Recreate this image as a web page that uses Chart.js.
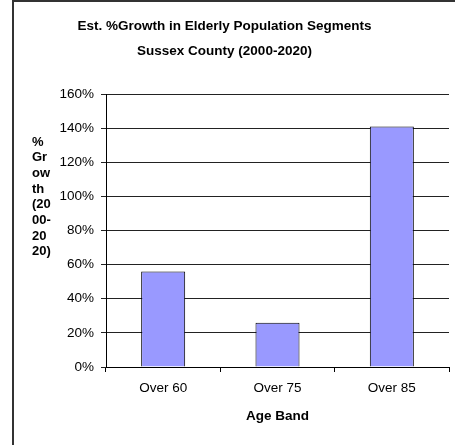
<!DOCTYPE html>
<html>
<head>
<meta charset="utf-8">
<script src="https://cdn.jsdelivr.net/npm/chart.js@4"></script>
<style>
  html, body { margin: 0; padding: 0; background: #fff; }
  #wrap { position: relative; width: 455px; height: 445px; overflow: hidden; }
  #frame {
    position: absolute; left: 12px; top: 0; width: 460px; height: 460px;
    border-left: 2px solid #333; border-top: 2px solid #333;
    pointer-events: none;
  }
</style>
</head>
<body>
<div id="wrap">
  <canvas id="chart" width="455" height="445"></canvas>
  <div id="frame"></div>
</div>
<script>
// Chart data
const categories = ['Over 60', 'Over 75', 'Over 85'];
const growthPct = [56, 26, 141];
const yTicks = [0, 20, 40, 60, 80, 100, 120, 140, 160];
const titleLines = ['Est. %Growth in Elderly Population Segments', 'Sussex County (2000-2020)'];
const yTitleLines = ['%', 'Gr', 'ow', 'th', '(20', '00-', '20', '20)'];
const xTitle = 'Age Band';

const FONT = 'Arial, "Liberation Sans", sans-serif';

// y-axis title is stacked in a narrow column, not rotated
const stackedYTitle = {
    id: 'stackedYTitle',
    afterDraw(chart) {
        const ctx = chart.ctx;
        ctx.save();
        ctx.font = 'bold 13px ' + FONT;
        ctx.fillStyle = '#000';
        ctx.textAlign = 'left';
        ctx.textBaseline = 'middle';
        yTitleLines.forEach((line, i) => {
            ctx.fillText(line, 32, 142 + i * 15.7);
        });
        ctx.restore();
    }
};

const ctx = document.getElementById('chart').getContext('2d');
new Chart(ctx, {
    type: 'bar',
    data: {
        labels: categories,
        datasets: [{
            label: '% Growth',
            data: growthPct,
            backgroundColor: '#9999FF',
            borderColor: '#000',
            borderWidth: 1,
            categoryPercentage: 1,
            barPercentage: 0.385
        }]
    },
    options: {
        responsive: false,
        animation: false,
        devicePixelRatio: 1,
        layout: { padding: { left: 0, right: 6, top: 0, bottom: 0 } },
        plugins: {
            legend: { display: false },
            tooltip: { enabled: false },
            title: {
                display: true,
                text: titleLines,
                color: '#000',
                font: { family: FONT, size: 13.5, weight: 'bold', lineHeight: 25 / 13.5 },
                padding: { top: 14, bottom: 30 }
            }
        },
        scales: {
            x: {
                grid: { drawOnChartArea: false, tickLength: 5, color: '#000' },
                border: { color: '#000', width: 1 },
                ticks: { color: '#000', padding: 8, font: { family: FONT, size: 13.5 } },
                title: {
                    display: true,
                    text: xTitle,
                    color: '#000',
                    font: { family: FONT, size: 13.5, weight: 'bold' },
                    padding: { top: 0, bottom: 21 }
                },
                afterFit(scale) { scale.height = 78; }
            },
            y: {
                min: 0,
                max: 160,
                afterBuildTicks(scale) { scale.ticks = yTicks.map(v => ({ value: v })); },
                grid: { tickLength: 5, color: '#222' },
                border: { color: '#000', width: 1 },
                ticks: {
                    color: '#000',
                    padding: 7,
                    font: { family: FONT, size: 13.5 },
                    callback: v => v + '%'
                },
                afterFit(scale) { scale.width = 106; }
            }
        }
    },
    plugins: [stackedYTitle]
});
</script>
</body>
</html>
